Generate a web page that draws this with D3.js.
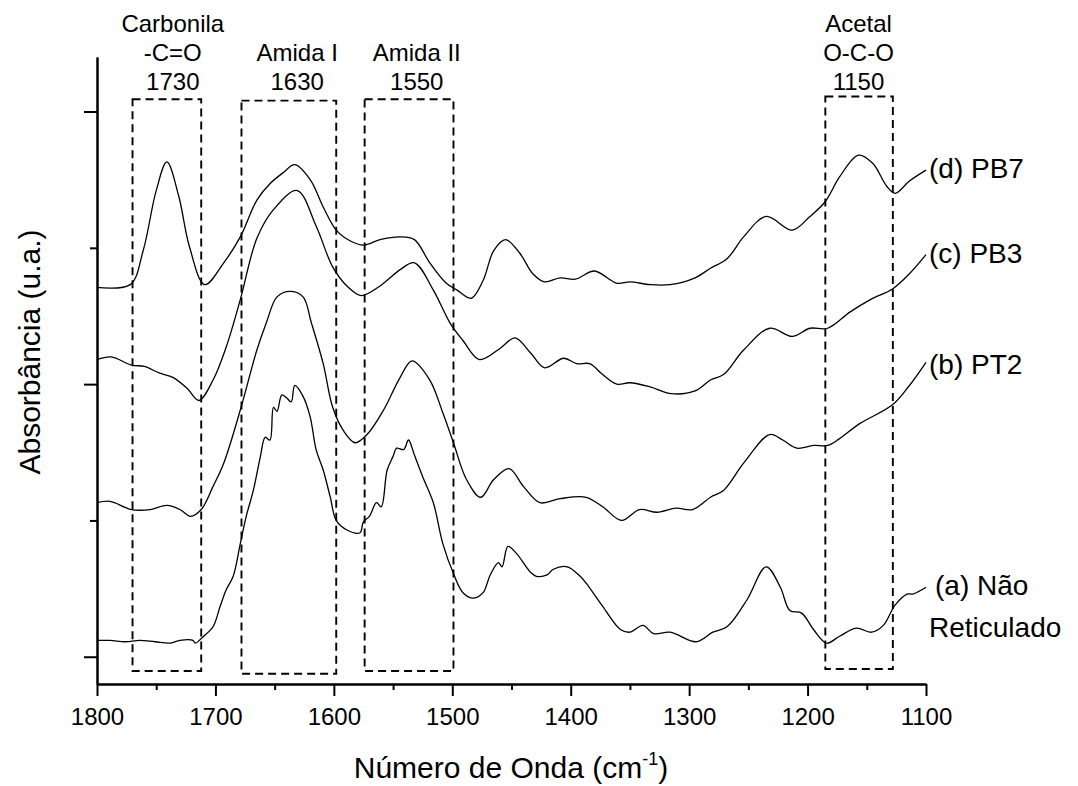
<!DOCTYPE html>
<html><head><meta charset="utf-8">
<script src="https://cdn.jsdelivr.net/npm/d3@7"></script>
<style>
body{margin:0;background:#fff}
text{font-family:"Liberation Sans",Arial,sans-serif;fill:#000}
</style>
</head><body>
<svg id="chart" width="1078" height="786"></svg>
<script>
// ---- data (wavenumber cm-1, absorbance a.u. with vertical offsets) ----
const wnD=[1800,1772,1761,1750,1741,1731,1722,1709,1693,1679,1665,1654,1643,1633,1620,1609,1598,1586,1575,1561,1544,1532,1519,1505,1496,1484,1474,1465,1455,1443,1432,1422,1409,1396,1380,1361,1350,1333,1316,1295,1282,1268,1254,1235,1213,1198,1185,1173,1157,1145,1133,1126,1114,1100];
const absD=[2.71,2.73,2.98,3.42,3.63,3.38,3.01,2.73,2.89,3.08,3.35,3.47,3.55,3.61,3.50,3.30,3.13,3.05,3.02,3.06,3.08,3.06,2.89,2.74,2.69,2.63,2.76,2.98,3.06,2.96,2.81,2.75,2.78,2.77,2.83,2.74,2.75,2.73,2.73,2.78,2.85,2.92,3.08,3.23,3.13,3.23,3.34,3.52,3.68,3.62,3.45,3.40,3.49,3.57];

const wnC=[1800,1788,1771,1760,1747,1736,1724,1714,1702,1691,1679,1665,1651,1631,1615,1601,1589,1577,1561,1544,1532,1516,1502,1491,1477,1460,1447,1434,1422,1406,1395,1384,1373,1361,1350,1333,1315,1295,1282,1271,1254,1232,1213,1198,1183,1164,1147,1128,1114,1100];
const absC=[2.18,2.20,2.14,2.13,2.08,2.05,1.97,1.88,2.03,2.27,2.62,3.07,3.28,3.42,3.16,2.86,2.72,2.65,2.72,2.84,2.89,2.69,2.45,2.32,2.18,2.26,2.34,2.23,2.12,2.19,2.15,2.15,2.07,2.00,2.01,1.98,1.93,1.95,2.03,2.07,2.25,2.41,2.35,2.41,2.41,2.53,2.62,2.70,2.81,2.95];

const wnB=[1800,1789,1771,1755,1741,1730,1721,1712,1702,1693,1679,1665,1657,1648,1637,1626,1619,1609,1601,1592,1582,1572,1558,1544,1534,1519,1508,1499,1488,1476,1465,1452,1440,1426,1409,1387,1373,1357,1342,1327,1311,1297,1282,1271,1254,1232,1221,1209,1195,1183,1173,1156,1128,1114,1100];
const absB=[1.13,1.14,1.08,1.08,1.11,1.08,1.03,1.08,1.25,1.42,1.81,2.25,2.45,2.64,2.68,2.64,2.45,2.15,1.83,1.66,1.57,1.63,1.81,2.05,2.17,2.03,1.79,1.57,1.30,1.17,1.30,1.38,1.25,1.13,1.16,1.17,1.10,1.00,1.08,1.06,1.09,1.08,1.17,1.22,1.42,1.63,1.59,1.53,1.55,1.55,1.60,1.71,1.85,1.99,2.16];

const wnA=[1800,1789,1776,1764,1751,1738,1730,1719,1717,1710,1702,1696,1691,1685,1679,1674,1668,1662,1658,1654,1651,1648,1644,1640,1636,1633,1626,1620,1615,1609,1603,1598,1589,1578,1575,1570,1564,1560,1555,1550,1547,1541,1537,1532,1525,1516,1508,1499,1491,1482,1474,1468,1461,1458,1453,1446,1434,1429,1420,1415,1403,1392,1387,1373,1358,1350,1339,1330,1316,1294,1280,1268,1251,1235,1223,1215,1205,1195,1184,1173,1159,1146,1136,1126,1116,1111,1100];
const absA=[0.12,0.12,0.11,0.12,0.11,0.10,0.12,0.12,0.10,0.15,0.22,0.37,0.49,0.59,0.83,1.03,1.22,1.47,1.61,1.59,1.83,1.80,1.92,1.90,1.87,1.99,1.91,1.76,1.52,1.37,1.17,1.00,0.93,0.91,0.99,1.03,1.13,1.10,1.37,1.47,1.53,1.52,1.59,1.48,1.32,1.13,0.83,0.61,0.47,0.43,0.47,0.60,0.69,0.66,0.81,0.76,0.62,0.59,0.60,0.64,0.66,0.59,0.54,0.37,0.20,0.18,0.23,0.17,0.18,0.11,0.18,0.22,0.42,0.66,0.51,0.34,0.32,0.20,0.10,0.15,0.21,0.18,0.23,0.38,0.46,0.46,0.51];

const seriesLabels=["(d) PB7","(c) PB3","(b) PT2","(a) Não"];
const seriesLabel2=["","","","Reticulado"];

// band boxes
const boxLeft=[1770,1678,1574,1185];
const boxRight=[1712,1598,1499,1128];
const boxTop=[4.09,4.08,4.09,4.11];
const boxBottom=[-0.105,-0.125,-0.105,-0.09];
const bandTextWn=[1736,1631,1530,1157];
const bandText=[["Carbonila","-C=O","1730"],["Amida I","1630"],["Amida II","1550"],["Acetal","O-C-O","1150"]];

const xMajor=[1800,1700,1600,1500,1400,1300,1200,1100];
const xMinor=[1750,1650,1550,1450,1350,1250,1150];
const yMajor=[0,2,4];
const yMinor=[1,3];

// ---- drawing ----
const svg=d3.select("#chart");
const x=d3.scaleLinear().domain([1800,1100]).range([97,926]);
const y=d3.scaleLinear().domain([-0.2,4.4]).range([684,57]);

// boxes
const boxes=boxLeft.map((l,i)=>({l,r:boxRight[i],t:boxTop[i],b:boxBottom[i]}));
svg.append("g").selectAll("rect").data(boxes).join("rect")
  .attr("x",d=>x(d.l)).attr("y",d=>y(d.t))
  .attr("width",d=>x(d.r)-x(d.l)).attr("height",d=>y(d.b)-y(d.t))
  .attr("fill","none").attr("stroke","#000").attr("stroke-width",1.9)
  .attr("stroke-dasharray","8,5");

// band labels
bandText.forEach((lines,i)=>{
  const n=lines.length;
  lines.forEach((t,j)=>{
    svg.append("text").attr("x",x(bandTextWn[i])).attr("y",90-(n-1-j)*29)
      .attr("text-anchor","middle").attr("font-size",24).text(t);
  });
});

// curves
const series=[[wnD,absD],[wnC,absC],[wnB,absB],[wnA,absA]];
const line=d3.line().x(d=>x(d[0])).y(d=>y(d[1])).curve(d3.curveCatmullRom.alpha(0.5));
series.forEach(([w,a])=>{
  svg.append("path").datum(w.map((v,i)=>[v,a[i]])).attr("d",line)
    .attr("fill","none").attr("stroke","#000").attr("stroke-width",1.3);
});

// curve labels
const labelDy=[8,8,12,8];
series.forEach(([w,a],i)=>{
  const endY=y(a[a.length-1]);
  svg.append("text").attr("x",i===3?935:929).attr("y",endY+labelDy[i])
    .attr("font-size",28).text(seriesLabels[i]);
  if(seriesLabel2[i]) svg.append("text").attr("x",929).attr("y",endY+labelDy[i]+42)
    .attr("font-size",28).text(seriesLabel2[i]);
});

// axes
function styleAxis(g){
  g.select(".domain").attr("stroke","#000").attr("stroke-width",2);
  g.selectAll(".tick line").attr("stroke","#000").attr("stroke-width",2);
  g.selectAll(".tick text").attr("font-size",24).attr("font-family","Liberation Sans, Arial, sans-serif").attr("fill","#000");
}
svg.append("g").attr("transform","translate(0,684)")
  .call(d3.axisBottom(x).tickValues(xMinor).tickSize(6).tickSizeOuter(0).tickFormat(""))
  .call(styleAxis);
svg.append("g").attr("transform","translate(0,684)")
  .call(d3.axisBottom(x).tickValues(xMajor).tickSize(12).tickSizeOuter(0).tickPadding(12).tickFormat(d3.format("d")))
  .call(styleAxis);
svg.append("g").attr("transform","translate(97,0)")
  .call(d3.axisLeft(y).tickValues(yMinor).tickSize(7).tickSizeOuter(0).tickFormat(""))
  .call(styleAxis);
svg.append("g").attr("transform","translate(97,0)")
  .call(d3.axisLeft(y).tickValues(yMajor).tickSize(13).tickSizeOuter(0).tickFormat(""))
  .call(styleAxis);

// axis titles
const xt=svg.append("text").attr("x",511).attr("y",778).attr("text-anchor","middle").attr("font-size",30);
xt.append("tspan").text("Número de Onda (cm");
xt.append("tspan").attr("font-size",18).attr("dy",-13).text("-1");
xt.append("tspan").attr("dy",13).text(")");
svg.append("text").attr("transform","translate(40,352) rotate(-90)")
  .attr("text-anchor","middle").attr("font-size",30).text("Absorbância (u.a.)");
</script>
</body></html>
